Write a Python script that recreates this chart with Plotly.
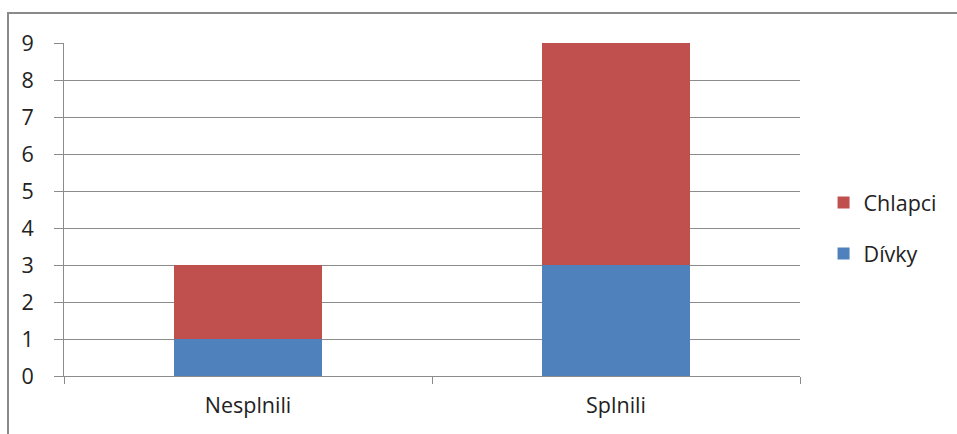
import plotly.graph_objects as go

# Categories and stacked series
categories = ["Nesplnili", "Splnili"]
divky = [1, 3]
chlapci = [2, 6]
y_ticks = list(range(0, 10))

BLUE = "#4F81BD"
RED = "#C0504D"
GRID = "#8C8C8C"
FONT = dict(family="Open Sans, Noto Sans, sans-serif", size=21.5, color="#222222")

fig = go.Figure()
fig.add_trace(go.Bar(x=categories, y=divky, name="Dívky", marker=dict(color=BLUE, line=dict(width=0)),
                     legendgroup="d", legendrank=2))
fig.add_trace(go.Bar(x=categories, y=chlapci, name="Chlapci", marker=dict(color=RED, line=dict(width=0)),
                     legendgroup="c", legendrank=1))

fig.update_layout(
    width=957, height=434,
    margin=dict(l=64, r=157, t=43, b=58),
    paper_bgcolor="white", plot_bgcolor="white",
    barmode="stack", bargap=0.6,
    font=FONT,
    showlegend=True,
    legend=dict(traceorder="grouped", tracegroupgap=20,
                x=1.032, xanchor="left", y=0.444, yanchor="middle",
                font=FONT, bgcolor="rgba(0,0,0,0)"),
    xaxis=dict(showline=True, linecolor=GRID, linewidth=1,
               ticks="outside", ticklen=7, tickcolor=GRID, tickson="boundaries",
               showgrid=False, zeroline=False, tickfont=FONT, ticklabelstandoff=10),
    yaxis=dict(range=[0, 9], tickvals=y_ticks, showline=True, linecolor=GRID, linewidth=1,
               ticks="outside", ticklen=9, tickcolor=GRID,
               showgrid=True, gridcolor=GRID, gridwidth=1, zeroline=False,
               tickfont=FONT, ticklabelstandoff=16),
    shapes=[dict(type="rect", xref="paper", yref="paper",
                 x0=-0.0761, x1=1.4, y0=-0.4, y1=1.0901,
                 line=dict(color="#8A8A8A", width=2), fillcolor="rgba(0,0,0,0)", layer="below")],
)

fig.write_html("out.html")
